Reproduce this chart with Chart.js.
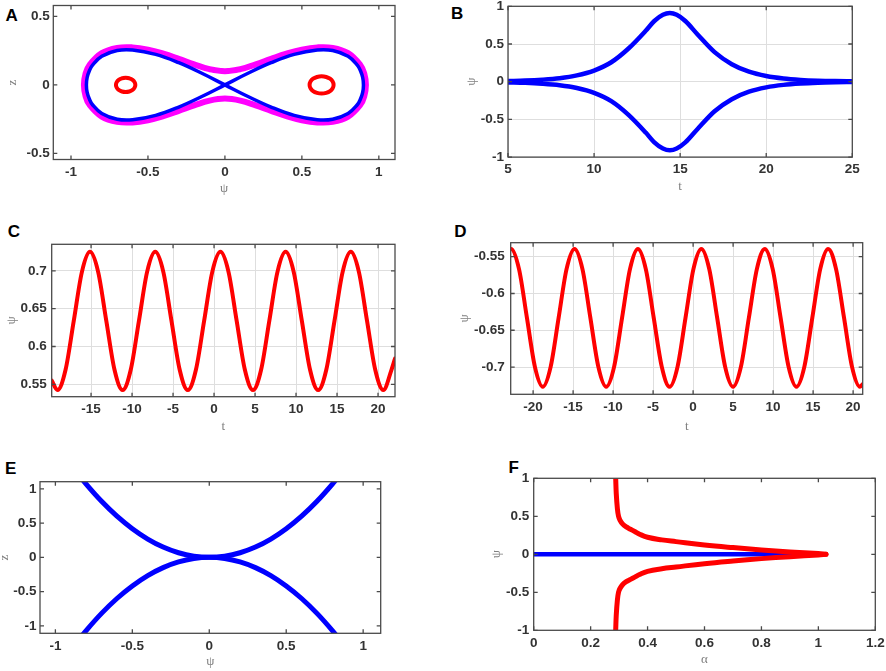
<!DOCTYPE html>
<html><head><meta charset="utf-8">
<script src="https://cdn.jsdelivr.net/npm/chart.js@4.4.1/dist/chart.umd.min.js"></script>
<style>
html,body{margin:0;padding:0;background:#fff;}
#wrap{position:relative;width:886px;height:671px;overflow:hidden;background:#fff;}
#wrap canvas{position:absolute;}
.lab{position:absolute;font:bold 17px "Liberation Sans",Arial,sans-serif;color:#000;transform:translate(-50%,-50%);line-height:1;}
</style></head><body><div id="wrap">
<div class="lab" style="left:11.7px;top:14.5px">A</div>
<div class="lab" style="left:457.2px;top:12.5px">B</div>
<div class="lab" style="left:13.8px;top:231px">C</div>
<div class="lab" style="left:460.5px;top:231px">D</div>
<div class="lab" style="left:10.7px;top:467.5px">E</div>
<div class="lab" style="left:513.8px;top:466.7px">F</div>
</div>
<script>
// ---------- Panel A : phase portrait (psi, z) ----------
const A_sep_psi = [0,0.15,0.3,0.45,0.6,0.7,0.8,0.86,0.88,0.895,0.9,0.895,0.88,0.86,0.8,0.7,0.6,0.45,0.3,0.15,0,-0.15,-0.3,-0.45,-0.6,-0.7,-0.8,-0.86,-0.88,-0.895,-0.9,-0.895,-0.88,-0.86,-0.8,-0.7,-0.6,-0.45,-0.3,-0.15,0];
const A_sep_z   = [0,0.085,0.162,0.223,0.255,0.251,0.209,0.145,0.105,0.054,0,-0.054,-0.105,-0.145,-0.209,-0.251,-0.255,-0.223,-0.162,-0.085,0,0.085,0.162,0.223,0.255,0.251,0.209,0.145,0.105,0.054,0,-0.054,-0.105,-0.145,-0.209,-0.251,-0.255,-0.223,-0.162,-0.085,0];
const A_orb_psi = [-0.1,0,0.1,0.2,0.3,0.4,0.5,0.6,0.7,0.8,0.88,0.905,0.916,0.905,0.88,0.8,0.7,0.6,0.5,0.4,0.3,0.2,0.1,0,-0.1,-0.2,-0.3,-0.4,-0.5,-0.6,-0.7,-0.8,-0.88,-0.905,-0.916,-0.905,-0.88,-0.8,-0.7,-0.6,-0.5,-0.4,-0.3,-0.2,-0.1,0,0.1];
const A_orb_z   = [0.115,0.1,0.115,0.15,0.19,0.228,0.258,0.274,0.270,0.232,0.145,0.084,0,-0.084,-0.145,-0.232,-0.270,-0.274,-0.258,-0.228,-0.19,-0.15,-0.115,-0.1,-0.115,-0.15,-0.19,-0.228,-0.258,-0.274,-0.270,-0.232,-0.145,-0.084,0,0.084,0.145,0.232,0.270,0.274,0.258,0.228,0.19,0.15,0.115,0.1,0.115];
const A_cL_psi = [-0.621,-0.645,-0.669,-0.690,-0.703,-0.708,-0.703,-0.690,-0.669,-0.645,-0.621,-0.600,-0.587,-0.582,-0.587,-0.600,-0.621,-0.645,-0.669];
const A_cL_z   = [0.048,0.052,0.048,0.037,0.020,0,-0.020,-0.037,-0.048,-0.052,-0.048,-0.037,-0.020,0,0.020,0.037,0.048,0.052,0.048];
const A_cR_psi = [0.658,0.628,0.598,0.573,0.556,0.550,0.556,0.573,0.598,0.628,0.658,0.683,0.700,0.706,0.700,0.683,0.658,0.628,0.598];
const A_cR_z   = [0.058,0.063,0.058,0.045,0.024,0,-0.024,-0.045,-0.058,-0.063,-0.058,-0.045,-0.024,0,0.024,0.045,0.058,0.063,0.058];
const A_xTicks = [-1,-0.5,0,0.5,1];   const A_xLabels = ['-1','-0.5','0','0.5','1'];
const A_yTicks = [-0.5,0,0.5];        const A_yLabels = ['-0.5','0','0.5'];

// ---------- Panel B : psi(t) pulses ----------
const B_t  = [5,6,7,8,9,10,11,12,13,13.5,14,14.4,14.8,15.3,16,17,18,19,20,21,22,23,24,25];
const B_up = [0.009,0.015,0.027,0.047,0.084,0.148,0.258,0.44,0.675,0.805,0.887,0.91,0.887,0.805,0.63,0.392,0.232,0.132,0.075,0.042,0.024,0.0135,0.0077,0.0044];
const B_dn = [-0.009,-0.015,-0.027,-0.047,-0.084,-0.148,-0.258,-0.44,-0.675,-0.805,-0.887,-0.91,-0.887,-0.805,-0.63,-0.392,-0.232,-0.132,-0.075,-0.042,-0.024,-0.0135,-0.0077,-0.0044];
const B_xTicks = [5,10,15,20,25];     const B_xLabels = ['5','10','15','20','25'];
const B_yTicks = [-1,-0.5,0,0.5,1];   const B_yLabels = ['-1','-0.5','0','0.5','1'];

// ---------- Panel C : periodic psi(t), positive well ----------
const C_t = [-19.8,-19.1,-18.11,-17.11,-16.12,-15.13,-14.13,-13.14,-12.14,-11.15,-10.16,-9.16,-8.17,-7.17,-6.18,-5.19,-4.19,-3.2,-2.21,-1.21,-0.22,0.78,1.77,2.76,3.76,4.75,5.74,6.74,7.73,8.73,9.72,10.71,11.71,12.7,13.69,14.69,15.68,16.68,17.67,18.66,19.66,20.65,21.64,22.07];
const C_psi = [0.555,
 0.5425,0.5692,0.6338,0.6983,0.725,0.6983,0.6338,0.5692,
 0.5425,0.5692,0.6338,0.6983,0.725,0.6983,0.6338,0.5692,
 0.5425,0.5692,0.6338,0.6983,0.725,0.6983,0.6338,0.5692,
 0.5425,0.5692,0.6338,0.6983,0.725,0.6983,0.6338,0.5692,
 0.5425,0.5692,0.6338,0.6983,0.725,0.6983,0.6338,0.5692,
 0.5425,0.5692,0.584];
const C_xTicks = [-15,-10,-5,0,5,10,15,20]; const C_xLabels = ['-15','-10','-5','0','5','10','15','20'];
const C_yTicks = [0.55,0.6,0.65,0.7];       const C_yLabels = ['0.55','0.6','0.65','0.7'];

// ---------- Panel D : periodic psi(t), negative well ----------
const D_t = [-22.8,-22.75,-21.76,-20.77,-19.78,-18.79,-17.8,-16.81,-15.82,-14.82,-13.83,-12.84,-11.85,-10.86,-9.87,-8.88,-7.89,-6.9,-5.91,-4.92,-3.92,-2.93,-1.94,-0.95,0.04,1.03,2.02,3.01,4.0,4.99,5.98,6.97,7.97,8.96,9.95,10.94,11.93,12.92,13.91,14.9,15.89,16.88,17.87,18.87,19.86,20.85,21.2];
const D_psi = [-0.5396,
 -0.5395,-0.5669,-0.6332,-0.6994,-0.7268,-0.6994,-0.6332,-0.5669,
 -0.5395,-0.5669,-0.6332,-0.6994,-0.7268,-0.6994,-0.6332,-0.5669,
 -0.5395,-0.5669,-0.6332,-0.6994,-0.7268,-0.6994,-0.6332,-0.5669,
 -0.5395,-0.5669,-0.6332,-0.6994,-0.7268,-0.6994,-0.6332,-0.5669,
 -0.5395,-0.5669,-0.6332,-0.6994,-0.7268,-0.6994,-0.6332,-0.5669,
 -0.5395,-0.5669,-0.6332,-0.6994,-0.7268,-0.7232];
const D_xTicks = [-20,-15,-10,-5,0,5,10,15,20]; const D_xLabels = ['-20','-15','-10','-5','0','5','10','15','20'];
const D_yTicks = [-0.7,-0.65,-0.6,-0.55];       const D_yLabels = ['-0.7','-0.65','-0.6','-0.55'];

// ---------- Panel E : (psi, z) branches ----------
const E_psi = [-0.85,-0.8,-0.7,-0.6,-0.5,-0.4,-0.3,-0.2,-0.1,0,0.1,0.2,0.3,0.4,0.5,0.6,0.7,0.8,0.85];
const E_up  = [1.207,1.069,0.818,0.601,0.418,0.267,0.150,0.067,0.017,0,0.017,0.067,0.150,0.267,0.418,0.601,0.818,1.069,1.207];
const E_dn  = [-1.207,-1.069,-0.818,-0.601,-0.418,-0.267,-0.150,-0.067,-0.017,0,-0.017,-0.067,-0.150,-0.267,-0.418,-0.601,-0.818,-1.069,-1.207];
const E_xTicks = [-1,-0.5,0,0.5,1];   const E_xLabels = ['-1','-0.5','0','0.5','1'];
const E_yTicks = [-1,-0.5,0,0.5,1];   const E_yLabels = ['-1','-0.5','0','0.5','1'];

// ---------- Panel F : bifurcation psi(alpha) ----------
const F_alpha = [0.2875,0.288,0.29,0.294,0.298,0.303,0.312,0.325,0.34,0.355,0.372,0.4,0.45,0.5,0.6,0.7,0.8,0.9,1.0,1.027];
const F_up = [1.04,1.0,0.8,0.6,0.5,0.45,0.4,0.36,0.33,0.3,0.265,0.224,0.19,0.167,0.123,0.088,0.057,0.031,0.009,0];
const F_dn = [-1.04,-1.0,-0.8,-0.6,-0.5,-0.45,-0.4,-0.36,-0.33,-0.3,-0.265,-0.224,-0.19,-0.167,-0.123,-0.088,-0.057,-0.031,-0.009,0];
const F_blue_alpha = [0,0.95];
const F_blue_psi = [0,0];
const F_xTicks = [0,0.2,0.4,0.6,0.8,1,1.2]; const F_xLabels = ['0','0.2','0.4','0.6','0.8','1','1.2'];
const F_yTicks = [-1,-0.5,0,0.5,1];         const F_yLabels = ['-1','-0.5','0','0.5','1'];

// ---------- helpers ----------
const WRAP = document.getElementById('wrap');
const BLUE = '#0000ff', RED = '#ff0000', MAG = '#ff00ff';
const TICK_FONT = {family: '"Liberation Sans", Arial, sans-serif', size: 13.5, weight: 'bold'};
const TITLE_FONT = {family: '"Liberation Serif", "DejaVu Serif", serif', size: 13};
const TICK_COLOR = '#333333', TITLE_COLOR = '#808080';

function pts(xs, ys) { return xs.map((v, i) => ({x: v, y: ys[i]})); }
function ds(xs, ys, color, width, mode) {
  const d = {data: pts(xs, ys), borderColor: color, backgroundColor: color, borderWidth: width,
    pointRadius: 0, fill: false, clip: 0, borderCapStyle: 'round', borderJoinStyle: 'round'};
  if (mode === 'mono') { d.cubicInterpolationMode = 'monotone'; d.tension = 0.4; }
  else if (mode === 'spline') { d.tension = 0.4; }
  else { d.tension = 0; }
  return d;
}

const boxPlugin = {
  id: 'boxTicks',
  afterDraw(chart) {
    const {ctx, chartArea: a, scales: {x, y}} = chart;
    ctx.save();
    ctx.strokeStyle = '#4a4a4a';
    ctx.lineWidth = 1.3;
    ctx.beginPath();
    const tl = 4;
    x.ticks.forEach(t => {
      const px = x.getPixelForValue(t.value);
      ctx.moveTo(px, a.bottom); ctx.lineTo(px, a.bottom - tl);
      ctx.moveTo(px, a.top); ctx.lineTo(px, a.top + tl);
    });
    y.ticks.forEach(t => {
      const py = y.getPixelForValue(t.value);
      ctx.moveTo(a.left, py); ctx.lineTo(a.left + tl, py);
      ctx.moveTo(a.right, py); ctx.lineTo(a.right - tl, py);
    });
    ctx.stroke();
    ctx.strokeRect(a.left, a.top, a.right - a.left, a.bottom - a.top);
    ctx.restore();
  }
};

function panel(s) {
  const cl = Math.round(s.yTitleX - 7.8);
  const ct = Math.round(s.T - 10);
  const cr = Math.round(s.R + 13);
  const cb = Math.round(s.xTitleY + 7.8);
  const cw = cr - cl, ch = cb - ct;
  const c = document.createElement('canvas');
  c.width = cw; c.height = ch;
  c.style.left = cl + 'px'; c.style.top = ct + 'px';
  c.style.width = cw + 'px'; c.style.height = ch + 'px';
  WRAP.appendChild(c);
  const yW = s.L - cl, xH = cb - s.B;
  const zeroPad = sc => { sc.paddingLeft = 0; sc.paddingRight = 0; sc.paddingTop = 0; sc.paddingBottom = 0; };
  new Chart(c, {
    type: 'line',
    data: {datasets: s.datasets},
    options: {
      responsive: false, animation: false, events: [],
      layout: {padding: {left: 0, top: s.T - ct, right: cr - s.R, bottom: 0}},
      plugins: {legend: {display: false}, tooltip: {enabled: false}},
      scales: {
        x: {
          type: 'linear', position: 'bottom', min: s.xMin, max: s.xMax,
          afterBuildTicks: sc => { sc.ticks = s.xTicks.map(v => ({value: v})); },
          afterFit: sc => { sc.height = xH; zeroPad(sc); },
          ticks: {callback: (v, i) => s.xLabels[i], padding: 4.5, font: TICK_FONT, color: TICK_COLOR, maxRotation: 0, autoSkip: false},
          grid: {display: s.grid, color: '#dedede', lineWidth: 1, drawTicks: false},
          border: {display: false},
          title: {display: true, text: s.xTitle, font: TITLE_FONT, color: TITLE_COLOR, padding: 0}
        },
        y: {
          type: 'linear', position: 'left', min: s.yMin, max: s.yMax,
          afterBuildTicks: sc => { sc.ticks = s.yTicks.map(v => ({value: v})); },
          afterFit: sc => { sc.width = yW; zeroPad(sc); },
          ticks: {callback: (v, i) => s.yLabels[i], padding: s.yPad, font: TICK_FONT, color: TICK_COLOR, autoSkip: false},
          grid: {display: s.grid, color: '#dedede', lineWidth: 1, drawTicks: false},
          border: {display: false},
          title: {display: true, text: s.yTitle, font: TITLE_FONT, color: TITLE_COLOR, padding: 0}
        }
      }
    },
    plugins: [boxPlugin]
  });
}

// A
panel({L: 53.3, R: 395, T: 5.5, B: 159.5, xMin: -1.115, xMax: 1.105, yMin: -0.545, yMax: 0.58,
  yTitleX: 12.5, xTitleY: 188.3, yPad: 3.5, grid: false, xTitle: 'ψ', yTitle: 'z',
  xTicks: A_xTicks, xLabels: A_xLabels, yTicks: A_yTicks, yLabels: A_yLabels,
  datasets: [
    ds(A_cL_psi, A_cL_z, RED, 4, 'spline'),
    ds(A_cR_psi, A_cR_z, RED, 4, 'spline'),
    ds(A_sep_psi, A_sep_z, BLUE, 3.5, 'spline'),
    ds(A_orb_psi, A_orb_z, MAG, 6, 'spline')
  ]});

// B
panel({L: 508, R: 852.3, T: 6.3, B: 157.1, xMin: 5, xMax: 25, yMin: -1, yMax: 1,
  yTitleX: 471.3, xTitleY: 186, yPad: 4, grid: true, xTitle: 't', yTitle: 'ψ',
  xTicks: B_xTicks, xLabels: B_xLabels, yTicks: B_yTicks, yLabels: B_yLabels,
  datasets: [
    ds(B_t, B_up, BLUE, 4.5, 'mono'),
    ds(B_t, B_dn, BLUE, 4.5, 'mono')
  ]});

// C
panel({L: 51.7, R: 395, T: 244.3, B: 396.7, xMin: -19.8, xMax: 22.07, yMin: 0.5337, yMax: 0.735,
  yTitleX: 12, xTitleY: 426, yPad: 5, grid: true, xTitle: 't', yTitle: 'ψ',
  xTicks: C_xTicks, xLabels: C_xLabels, yTicks: C_yTicks, yLabels: C_yLabels,
  datasets: [ds(C_t, C_psi, RED, 4, 'mono')]});

// D
panel({L: 510.7, R: 862.7, T: 242.7, B: 394.3, xMin: -22.8, xMax: 21.2, yMin: -0.737, yMax: -0.531,
  yTitleX: 464.7, xTitleY: 426, yPad: 6, grid: true, xTitle: 't', yTitle: 'ψ',
  xTicks: D_xTicks, xLabels: D_xLabels, yTicks: D_yTicks, yLabels: D_yLabels,
  datasets: [ds(D_t, D_psi, RED, 4, 'mono')]});

// E
panel({L: 40, R: 380.7, T: 481.7, B: 633.3, xMin: -1.1, xMax: 1.114, yMin: -1.109, yMax: 1.104,
  yTitleX: 5, xTitleY: 660.7, yPad: 3.5, grid: false, xTitle: 'ψ', yTitle: 'z',
  xTicks: E_xTicks, xLabels: E_xLabels, yTicks: E_yTicks, yLabels: E_yLabels,
  datasets: [
    ds(E_psi, E_up, BLUE, 5, 'mono'),
    ds(E_psi, E_dn, BLUE, 5, 'mono')
  ]});

// F
panel({L: 533.7, R: 875.3, T: 478.3, B: 630.3, xMin: 0, xMax: 1.2, yMin: -1, yMax: 1,
  yTitleX: 496.3, xTitleY: 659.3, yPad: 4.5, grid: false, xTitle: 'α', yTitle: 'ψ',
  xTicks: F_xTicks, xLabels: F_xLabels, yTicks: F_yTicks, yLabels: F_yLabels,
  datasets: [
    ds(F_alpha, F_up, RED, 5, 'spline'),
    ds(F_alpha, F_dn, RED, 5, 'spline'),
    ds(F_blue_alpha, F_blue_psi, BLUE, 4.5, 'line')
  ]});
</script>
</body></html>
